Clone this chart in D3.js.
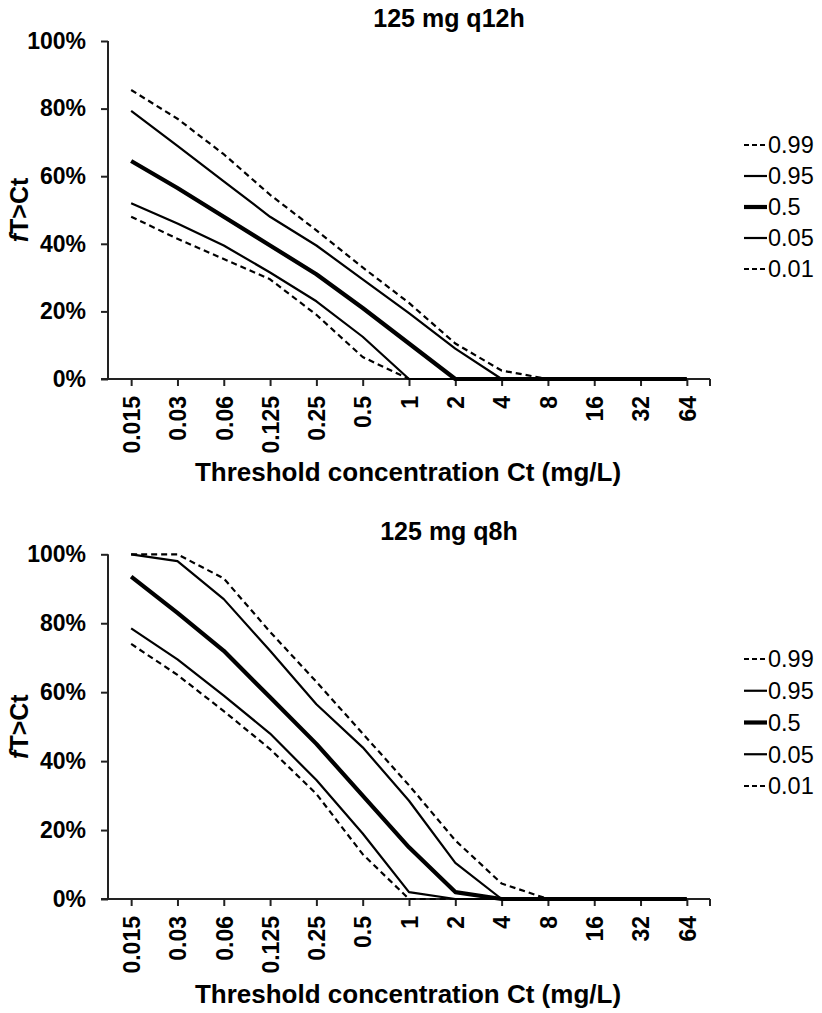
<!DOCTYPE html>
<html>
<head>
<meta charset="utf-8">
<script src="https://cdn.jsdelivr.net/npm/d3@7"></script>
<style>
  body { margin: 0; background: #fff; }
  svg { display: block; }
  text { font-family: "Liberation Sans", Arial, sans-serif; fill: #000; }
</style>
</head>
<body>
<svg id="chart" width="822" height="1013"></svg>
<script>
// ---- data ----
const categories = ["0.015","0.03","0.06","0.125","0.25","0.5","1","2","4","8","16","32","64"];
const yTicks = [0, 20, 40, 60, 80, 100];
const seriesNames = ["0.99", "0.95", "0.5", "0.05", "0.01"];

const q12_p99 = [85.5, 77, 66.5, 54.5, 44, 33, 22.5, 10.5, 2.5, 0, 0, 0, 0];
const q12_p95 = [79.3, 69, 58.5, 48, 39.5, 29.5, 19.5, 9, 0, 0, 0, 0, 0];
const q12_p50 = [64.5, 56.5, 48, 39.5, 31, 21, 10.5, 0, 0, 0, 0, 0, 0];
const q12_p05 = [52, 46, 39.5, 31.5, 23, 12.5, 0, 0, 0, 0, 0, 0, 0];
const q12_p01 = [48, 41.5, 35.5, 29.5, 19, 6.5, 0, 0, 0, 0, 0, 0, 0];

const q8_p99 = [100, 100, 93, 77.5, 63, 48, 33, 17, 4.5, 0, 0, 0, 0];
const q8_p95 = [100, 98, 87, 72, 56.5, 44, 28.5, 10.5, 0, 0, 0, 0, 0];
const q8_p50 = [93.5, 83, 72, 58.5, 45, 30, 15, 2, 0, 0, 0, 0, 0];
const q8_p05 = [78.5, 69.5, 59, 48, 34.5, 19, 2, 0, 0, 0, 0, 0, 0];
const q8_p01 = [74, 65, 54.5, 43.5, 30.5, 13, 0, 0, 0, 0, 0, 0, 0];

const styles = {
  "0.99": { width: 2.2, dash: "6,4" },
  "0.95": { width: 2.2, dash: null },
  "0.5":  { width: 4.2, dash: null },
  "0.05": { width: 2.2, dash: null },
  "0.01": { width: 2.2, dash: "6,4" }
};

const svg = d3.select("#chart");

function panel(cfg) {
  const g = svg.append("g");
  const x = d3.scalePoint().domain(categories).range([108, 710]).padding(0.5);
  const y = d3.scaleLinear().domain([0, 100]).range([cfg.y0, cfg.y100]);

  // title
  g.append("text").attr("x", 449).attr("y", cfg.titleY)
    .attr("text-anchor", "middle").style("font-size", "25px").style("font-weight", "bold")
    .text(cfg.title);

  // y axis
  const ya = g.append("g").attr("transform", "translate(108,0)")
    .call(d3.axisLeft(y).tickValues(yTicks).tickSize(7).tickPadding(15).tickFormat(d => d + "%"));
  ya.select(".domain").attr("stroke", "#222").attr("stroke-width", 2).attr("d", `M0,${cfg.y100}V${cfg.y0}`);
  ya.selectAll(".tick line").attr("stroke", "#222").attr("stroke-width", 2);
  ya.selectAll(".tick text").style("font-size", "23px").style("font-weight", "bold")
    .style("font-family", '"Liberation Sans", Arial, sans-serif').attr("fill", "#000");

  // x axis
  const xa = g.append("g").attr("transform", `translate(0,${cfg.y0})`)
    .call(d3.axisBottom(x).tickSize(7).tickPadding(0));
  xa.select(".domain").attr("stroke", "#222").attr("stroke-width", 2).attr("d", "M101,0H710");
  xa.selectAll(".tick line").attr("stroke", "#222").attr("stroke-width", 2);
  xa.append("line").attr("x1", 710).attr("x2", 710).attr("y1", 0).attr("y2", 7)
    .attr("stroke", "#222").attr("stroke-width", 2);
  xa.selectAll(".tick text")
    .attr("transform", "rotate(-90)")
    .attr("x", -17).attr("y", 0).attr("dy", "0.36em")
    .attr("text-anchor", "end")
    .style("font-size", "23px").style("font-weight", "bold")
    .style("font-family", '"Liberation Sans", Arial, sans-serif').attr("fill", "#000");

  // axis titles
  g.append("text").attr("x", 408).attr("y", cfg.xTitleY)
    .attr("text-anchor", "middle").style("font-size", "26px").style("font-weight", "bold")
    .text("Threshold concentration Ct (mg/L)");
  const yt = g.append("text")
    .attr("transform", `translate(28,${(cfg.y0 + cfg.y100) / 2}) rotate(-90)`)
    .attr("text-anchor", "middle").style("font-size", "25px").style("font-weight", "bold");
  yt.append("tspan").style("font-style", "italic").text("f");
  yt.append("tspan").text("T>Ct");

  // lines
  const line = d3.line().x((d, i) => x(categories[i])).y(d => y(d));
  seriesNames.forEach((name, k) => {
    const st = styles[name];
    g.append("path").datum(cfg.series[k])
      .attr("d", line).attr("fill", "none").attr("stroke", "#000")
      .attr("stroke-width", st.width)
      .attr("stroke-dasharray", st.dash)
      .attr("stroke-linejoin", "round");
  });

  // legend
  const lg = g.append("g");
  seriesNames.forEach((name, k) => {
    const st = styles[name];
    const cy = cfg.legendY + k * cfg.legendStep;
    lg.append("line").attr("x1", 744).attr("x2", 767).attr("y1", cy).attr("y2", cy)
      .attr("stroke", "#000").attr("stroke-width", st.width)
      .attr("stroke-dasharray", st.dash ? "5,3" : null);
    lg.append("text").attr("x", 768).attr("y", cy).attr("dy", "0.36em")
      .style("font-size", "23.5px").text(name);
  });
}

panel({
  title: "125 mg q12h", titleY: 27,
  y0: 379, y100: 41, xTitleY: 481,
  legendY: 145, legendStep: 31,
  series: [q12_p99, q12_p95, q12_p50, q12_p05, q12_p01]
});
panel({
  title: "125 mg q8h", titleY: 540,
  y0: 899, y100: 554.3, xTitleY: 1003,
  legendY: 659, legendStep: 31.75,
  series: [q8_p99, q8_p95, q8_p50, q8_p05, q8_p01]
});
</script>
</body>
</html>
